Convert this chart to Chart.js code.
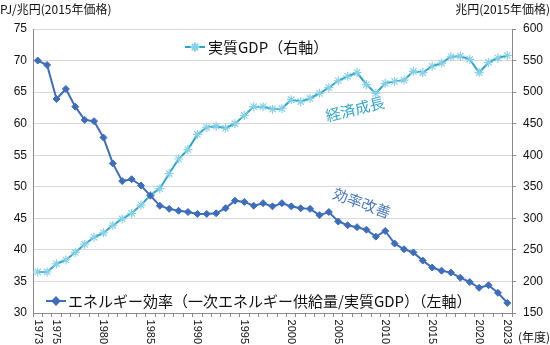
<!DOCTYPE html>
<html><head><meta charset="utf-8">
<script src="https://cdn.jsdelivr.net/npm/chart.js@4.4.1/dist/chart.umd.min.js"></script>
<style>html,body{margin:0;padding:0;background:#fff}#wrap{position:relative;width:550px;height:345px}</style>
</head><body><div id="wrap"><canvas id="c"></canvas></div>
<script>
const years = [1973,1974,1975,1976,1977,1978,1979,1980,1981,1982,1983,1984,1985,1986,1987,1988,1989,1990,1991,1992,1993,1994,1995,1996,1997,1998,1999,2000,2001,2002,2003,2004,2005,2006,2007,2008,2009,2010,2011,2012,2013,2014,2015,2016,2017,2018,2019,2020,2021,2022,2023];
const labeledYears = [1973,1975,1980,1985,1990,1995,2000,2005,2010,2015,2020,2023];
const efficiency = [70.0,69.3,63.9,65.5,62.7,60.6,60.4,57.8,53.7,50.9,51.2,50.2,48.6,47.0,46.5,46.2,46.0,45.7,45.7,45.8,46.6,47.8,47.6,47.0,47.4,46.9,47.4,46.9,46.6,46.5,45.5,46.0,44.5,43.9,43.6,43.2,42.1,43.0,41.0,40.1,39.6,38.3,37.2,36.7,36.4,35.6,34.9,34.0,34.4,33.2,31.6];
const realGDP = [215,215,228,234,246,259,270,277,289,299,308,321,337,347,371,394,409,433,444,446,443,450,463,477,477,473,474,488,485,490,498,507,518,525,531,512,498,514,517,519,533,531,541,546,556,557,552,531,547,554,558];
const leftTicks = [30,35,40,45,50,55,60,65,70,75];
const rightTicks = [150,200,250,300,350,400,450,500,550,600];

const effColor = '#3d6dbb';
const gdpColor = '#2aa6ca';
const gdpMarker = '#86d0e8';
const jp = '"Noto Sans CJK JP", "Noto Sans", sans-serif';

const extras = {
  id: 'extras',
  afterDraw(chart) {
    const ctx = chart.ctx;
    ctx.save();
    // axis titles
    ctx.fillStyle = '#111';
    ctx.font = '12px ' + jp;
    ctx.textBaseline = 'middle';
    ctx.textAlign = 'left';
    ctx.fillText('PJ/兆円(2015年価格)', 0, 9);
    ctx.textAlign = 'right';
    ctx.fillText('兆円(2015年価格)', 550, 9);
    ctx.textAlign = 'left';
    ctx.fillText('(年度)', 518, 337);

    // legend: GDP (top)
    ctx.strokeStyle = gdpColor; ctx.lineWidth = 2;
    ctx.beginPath(); ctx.moveTo(185, 47); ctx.lineTo(205, 47); ctx.stroke();
    ctx.strokeStyle = gdpMarker;
    Chart.helpers.drawPoint(ctx, {pointStyle: 'star', radius: 4.5, borderWidth: 1.2}, 195, 47);
    ctx.fillStyle = '#111';
    ctx.font = '15px ' + jp;
    ctx.textAlign = 'left';
    ctx.fillText('実質GDP（右軸）', 208, 47);

    // legend: efficiency (bottom)
    ctx.strokeStyle = effColor; ctx.lineWidth = 2;
    ctx.beginPath(); ctx.moveTo(46, 301); ctx.lineTo(66, 301); ctx.stroke();
    ctx.fillStyle = effColor;
    Chart.helpers.drawPoint(ctx, {pointStyle: 'rectRot', radius: 3.5, borderWidth: 1}, 56, 301);
    ctx.fillStyle = '#111';
    ctx.fillText('エネルギー効率（一次エネルギー供給量/実質GDP）（左軸）', 68, 301);

    // annotations
    ctx.font = '15px ' + jp;
    ctx.textAlign = 'center';
    ctx.save();
    ctx.translate(355, 109); ctx.rotate(-14 * Math.PI / 180);
    ctx.fillStyle = '#33a6cc';
    ctx.fillText('経済成長', 0, 0);
    ctx.restore();
    ctx.save();
    ctx.translate(362, 203); ctx.rotate(20 * Math.PI / 180);
    ctx.fillStyle = '#4a78c2';
    ctx.fillText('効率改善', 0, 0);
    ctx.restore();
    ctx.restore();
  }
};

new Chart(document.getElementById('c'), {
  type: 'line',
  data: {
    labels: years,
    datasets: [
      {
        label: 'エネルギー効率（一次エネルギー供給量/実質GDP）（左軸）',
        data: efficiency, yAxisID: 'y',
        borderColor: effColor, backgroundColor: effColor, borderWidth: 2,
        pointStyle: 'rectRot', pointRadius: 3.5, pointBorderWidth: 1,
        pointBackgroundColor: effColor, pointBorderColor: effColor, tension: 0
      },
      {
        label: '実質GDP（右軸）',
        data: realGDP, yAxisID: 'y1',
        borderColor: gdpColor, backgroundColor: gdpColor, borderWidth: 2,
        pointStyle: 'star', pointRadius: 4.5, pointBorderWidth: 1.2,
        pointBorderColor: gdpMarker, tension: 0
      }
    ]
  },
  options: {
    responsive: true, maintainAspectRatio: false, animation: false,
    layout: { padding: { top: 29, left: 0, right: 0, bottom: 0 } },
    plugins: { legend: { display: false }, tooltip: { enabled: false } },
    scales: {
      x: {
        type: 'category', offset: true,
        grid: { display: true, drawOnChartArea: false, drawTicks: true, tickLength: 4, color: '#8a8a8a', offset: true },
        border: { display: true, color: '#8a8a8a', width: 1 },
        ticks: {
          autoSkip: false, minRotation: -90, maxRotation: -90, padding: 27,
          color: '#111', font: { family: '"Liberation Sans", Arial, sans-serif', size: 11 },
          callback: function(v, i) { const yr = years[i]; return labeledYears.includes(yr) ? String(yr) : ''; }
        },
        afterFit(s) { s.height = 32; }
      },
      y: {
        position: 'left', min: 30, max: 75,
        afterBuildTicks(s) { s.ticks = leftTicks.map(v => ({ value: v })); },
        grid: { color: '#d9d9d9', lineWidth: 1, drawTicks: false },
        border: { display: true, color: '#8a8a8a', width: 1 },
        ticks: { padding: 6, color: '#111', font: { family: '"Liberation Sans", Arial, sans-serif', size: 12 } },
        afterFit(s) { s.width = 33; }
      },
      y1: {
        position: 'right', min: 150, max: 600,
        afterBuildTicks(s) { s.ticks = rightTicks.map(v => ({ value: v })); },
        grid: { display: true, drawOnChartArea: false, drawTicks: true, tickLength: 4, color: '#8a8a8a' },
        border: { display: true, color: '#8a8a8a', width: 1 },
        ticks: { padding: 7, color: '#111', font: { family: '"Liberation Sans", Arial, sans-serif', size: 12 } },
        afterFit(s) { s.width = 38; }
      }
    }
  },
  plugins: [extras]
});
</script></body></html>
